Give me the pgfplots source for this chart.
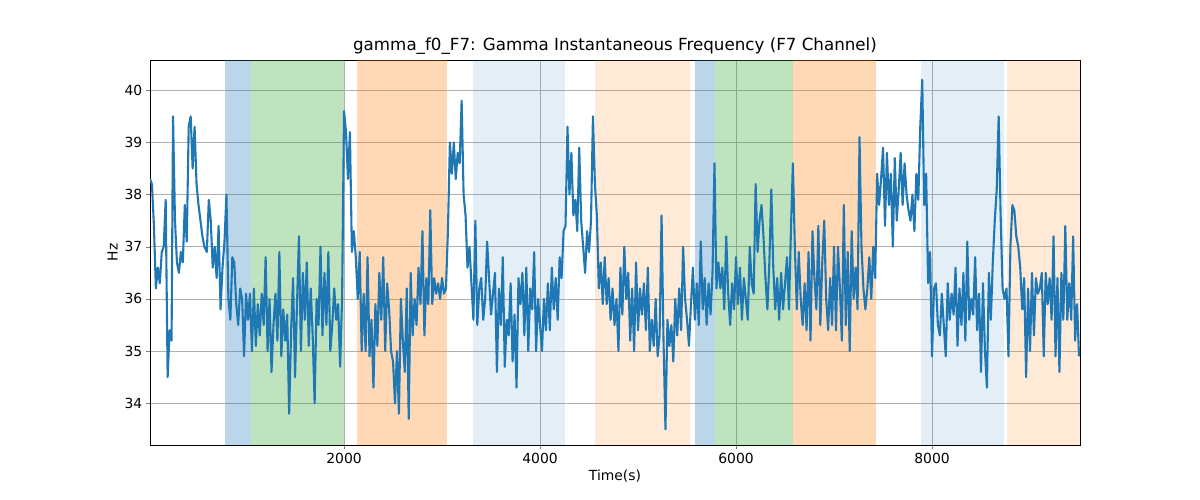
\documentclass[border=0pt]{standalone}
\usepackage{pgfplots}
\pgfplotsset{compat=1.18}
\usepackage{fontspec}
\setmainfont{DejaVu Sans}
\definecolor{c0}{HTML}{1F77B4}
\definecolor{c1}{HTML}{FF7F0E}
\definecolor{c2}{HTML}{2CA02C}
\definecolor{gr}{HTML}{B0B0B0}
\begin{document}
\begin{tikzpicture}
\path[use as bounding box] (0,0) rectangle (1200bp,500bp);
\begin{axis}[
  scale only axis, width=930bp, height=385bp,
  at={(150bp,55bp)}, anchor=south west,
  xmin=20, xmax=9510, ymin=33.2, ymax=40.58,
  xtick={2000,4000,6000,8000}, ytick={34,35,36,37,38,39,40},
  grid=major, grid style={gr, line width=0.8bp},
  title={gamma\_f0\_F7: Gamma Instantaneous Frequency (F7 Channel)},
  xlabel={Time(s)}, ylabel={Hz},
  tick label style={font=\fontsize{13.9bp}{16bp}\selectfont}, label style={font=\fontsize{13.9bp}{16bp}\selectfont},
  title style={font=\fontsize{16.7bp}{19bp}\selectfont, yshift=-4pt},
  /pgf/number format/assume math mode=true,
  /pgf/number format/1000 sep={},
  tick align=outside, tick pos=left,
]
\def\sp#1#2#3#4{\addplot[draw=none,fill=#3,fill opacity=#4,forget plot] coordinates {(#1,33.2) (#2,33.2) (#2,40.58) (#1,40.58)} --cycle;}
\sp{786}{1051}{c0}{0.3}
\sp{1051}{2000}{c2}{0.3}
\sp{2133}{3051}{c1}{0.3}
\sp{3316}{4255}{c0}{0.12}
\sp{4561}{5531}{c1}{0.16}
\sp{5582}{5786}{c0}{0.3}
\sp{5786}{6582}{c2}{0.3}
\sp{6582}{7429}{c1}{0.3}
\sp{7888}{8735}{c0}{0.12}
\sp{8765}{9510}{c1}{0.16}
\addplot[c0, line width=2.1bp, line join=round] coordinates {
(20,38.3)(40,38.2)(60,37.4)(80,36.2)(100,36.6)(120,36.3)(140,36.9)(160,37.0)(180,37.9)(200,34.5)(220,35.4)(240,35.2)(255,39.5)(275,37.5)(295,36.7)(315,36.5)(335,36.9)(355,36.7)(375,37.8)(395,37.1)(415,39.3)(435,39.5)(455,38.5)(475,39.3)(495,38.2)(515,37.8)(535,37.5)(555,37.2)(575,37.0)(600,36.9)(620,37.9)(640,37.5)(660,36.6)(680,37.0)(700,36.4)(720,37.4)(740,35.8)(760,36.6)(780,37.1)(800,38.0)(820,36.0)(840,35.6)(860,36.8)(880,36.7)(900,35.9)(920,35.5)(940,36.2)(960,36.0)(980,34.9)(1000,36.1)(1020,35.6)(1040,36.1)
(1060,35.0)(1080,36.2)(1100,35.1)(1120,35.9)(1140,35.3)(1160,36.1)(1180,35.5)(1200,36.8)(1220,35.0)(1240,36.0)(1260,34.6)(1280,35.5)(1300,36.1)(1320,35.2)(1340,36.9)(1360,34.9)(1380,35.8)(1400,35.2)(1420,35.7)(1440,33.8)(1460,35.4)(1480,36.4)(1500,34.5)(1520,35.9)(1540,37.2)(1560,35.0)(1580,36.5)(1600,35.6)(1620,36.7)(1640,35.1)(1660,36.2)(1680,35.3)(1700,34.0)(1720,36.0)(1740,35.5)(1760,37.0)(1780,35.3)(1800,36.5)(1820,35.5)(1840,36.9)(1860,35.0)(1880,35.5)(1900,36.2)(1920,35.6)(1940,35.9)(1960,34.7)(1980,36.0)
(2000,39.6)(2020,39.2)(2040,38.3)(2060,39.2)(2080,36.9)(2100,37.3)(2120,36.8)(2140,36.0)(2160,36.9)(2180,35.0)(2200,36.1)(2220,35.0)(2240,36.8)(2260,34.9)(2280,35.6)(2300,34.3)(2320,35.9)(2340,35.1)(2360,36.5)(2380,35.6)(2400,36.8)(2420,35.0)(2440,36.3)(2460,35.8)(2480,35.0)(2500,34.8)(2520,34.0)(2540,35.0)(2560,33.8)(2580,36.0)(2600,35.2)(2620,34.6)(2640,36.2)(2660,33.7)(2680,36.5)(2700,35.3)(2720,36.0)(2740,35.5)(2760,36.6)(2780,35.9)(2800,37.3)(2820,35.3)(2840,36.4)(2860,35.9)(2880,37.7)(2900,35.9)(2920,36.4)(2940,36.1)(2960,36.3)(2980,36.0)(3000,36.4)(3020,36.1)(3040,36.2)
(3060,37.3)(3080,39.0)(3100,38.4)(3120,39.0)(3140,38.3)(3160,38.8)(3180,38.6)(3200,39.8)(3220,38.0)(3240,37.6)(3260,36.6)(3280,37.0)(3300,36.3)(3320,35.6)(3340,37.5)(3360,35.5)(3380,36.2)(3400,36.4)(3420,35.6)(3440,36.0)(3460,37.1)(3480,36.4)(3500,35.7)(3520,36.1)(3540,36.5)(3560,34.6)(3580,36.2)(3600,35.5)(3620,36.8)(3640,34.7)(3660,35.6)(3680,35.3)(3700,36.3)(3720,34.8)(3740,35.7)(3760,34.3)(3780,36.4)(3800,35.9)(3820,36.5)(3840,35.3)(3860,36.6)(3880,35.0)(3900,36.2)(3920,35.8)(3940,36.9)(3960,35.0)(3980,36.0)(4000,35.5)(4020,35.0)(4040,36.0)(4060,35.4)(4080,36.3)(4100,35.4)(4120,36.6)(4140,35.8)(4160,36.4)(4180,35.6)(4200,36.8)(4220,36.4)(4240,37.3)
(4260,37.4)(4280,39.3)(4300,38.0)(4320,38.8)(4340,37.6)(4360,37.9)(4380,37.3)(4400,38.9)(4420,37.5)(4440,37.0)(4460,36.5)(4480,37.3)(4500,36.9)(4520,37.5)(4540,39.5)(4560,38.2)(4580,37.6)(4600,36.2)(4620,36.7)(4640,35.9)(4660,36.8)(4680,35.9)(4700,36.4)(4720,35.6)(4740,36.2)(4760,35.5)(4780,36.0)(4800,35.0)(4820,36.6)(4840,35.7)(4860,37.0)(4880,36.0)(4900,36.5)(4920,35.2)(4940,36.2)(4960,35.0)(4980,36.7)(5000,35.4)(5020,36.2)(5040,35.7)(5060,36.3)(5080,35.4)(5100,36.6)(5120,35.0)(5140,35.6)(5160,35.1)(5180,36.0)(5200,34.9)(5220,35.3)(5240,37.6)(5260,35.2)(5280,33.5)(5300,35.6)(5320,35.1)(5340,35.5)(5360,34.8)(5380,36.0)(5400,35.3)(5420,36.2)(5440,35.4)(5460,37.0)(5480,36.0)(5500,35.6)(5520,35.1)
(5540,35.9)(5560,36.6)(5580,35.6)(5600,36.3)(5620,35.5)(5640,37.1)(5660,35.8)(5680,36.4)(5700,35.5)(5720,36.3)(5740,35.7)(5760,36.5)(5780,38.6)(5800,36.2)(5820,36.7)(5840,36.2)(5860,36.6)(5880,35.8)(5900,37.2)(5920,36.1)(5940,35.5)(5960,36.3)(5980,35.8)(6000,36.8)(6020,35.9)(6040,36.6)(6060,35.6)(6080,36.4)(6100,36.0)(6120,35.6)(6140,37.0)(6160,36.3)(6180,36.1)(6200,38.2)(6220,36.9)(6240,37.5)(6260,37.8)(6280,37.2)(6300,36.4)(6320,35.8)(6340,36.7)(6360,38.1)(6380,36.6)(6400,35.8)(6420,36.4)(6440,35.6)(6460,36.5)(6480,35.8)(6500,36.3)(6520,36.8)(6540,35.8)(6560,37.3)(6580,38.6)
(6600,37.0)(6620,35.8)(6640,36.9)(6660,36.0)(6680,35.5)(6700,36.3)(6720,35.4)(6740,36.9)(6760,35.2)(6780,37.3)(6800,36.4)(6820,35.8)(6840,37.4)(6860,35.5)(6880,36.7)(6900,37.5)(6920,36.0)(6940,35.4)(6960,36.4)(6980,35.5)(7000,37.0)(7020,35.4)(7040,37.0)(7060,36.2)(7080,35.2)(7100,37.8)(7120,35.5)(7140,36.9)(7160,35.0)(7180,37.3)(7200,36.0)(7220,36.6)(7240,35.8)(7260,39.1)(7280,37.0)(7300,36.2)(7320,35.8)(7340,36.2)(7360,36.8)(7380,36.0)(7400,37.0)(7420,36.4)
(7440,38.4)(7460,37.8)(7480,38.3)(7500,38.9)(7520,37.4)(7540,38.8)(7560,37.8)(7580,38.4)(7600,37.0)(7620,38.7)(7640,37.5)(7660,38.1)(7680,38.8)(7700,37.8)(7720,38.6)(7740,38.0)(7760,37.7)(7780,37.5)(7800,38.0)(7820,37.3)(7840,38.4)(7860,37.9)(7880,39.3)(7900,40.2)(7920,37.8)(7940,38.4)(7960,36.3)(7980,36.9)(8000,34.9)(8020,36.2)(8040,36.3)(8060,35.5)(8080,35.3)(8100,36.1)(8120,35.5)(8140,34.9)(8160,36.3)(8180,35.6)(8200,36.1)(8220,35.7)(8240,36.6)(8260,35.1)(8280,36.2)(8300,35.5)(8320,36.5)(8340,35.2)(8360,37.1)(8380,35.6)(8400,36.0)(8420,35.7)(8440,36.8)(8460,35.4)(8480,36.1)(8500,34.6)(8520,36.3)(8540,35.0)(8560,34.3)(8580,36.5)(8600,35.6)(8620,36.7)(8640,37.5)(8660,38.1)(8680,39.5)(8700,37.6)(8720,36.2)(8740,36.0)
(8760,36.2)(8780,34.9)(8800,37.0)(8820,37.8)(8840,37.7)(8860,37.2)(8880,37.0)(8900,36.6)(8920,35.8)(8940,36.4)(8960,34.5)(8980,36.2)(9000,35.0)(9020,36.5)(9040,35.3)(9060,36.4)(9080,36.1)(9100,36.2)(9120,36.5)(9140,34.9)(9160,36.5)(9180,35.9)(9200,36.4)(9220,35.6)(9240,37.2)(9260,34.9)(9280,36.4)(9300,34.6)(9320,36.5)(9340,35.6)(9360,37.4)(9380,35.6)(9400,36.3)(9420,35.6)(9440,37.2)(9460,35.2)(9480,35.9)(9500,34.9)
};
\end{axis}
\end{tikzpicture}
\end{document}
